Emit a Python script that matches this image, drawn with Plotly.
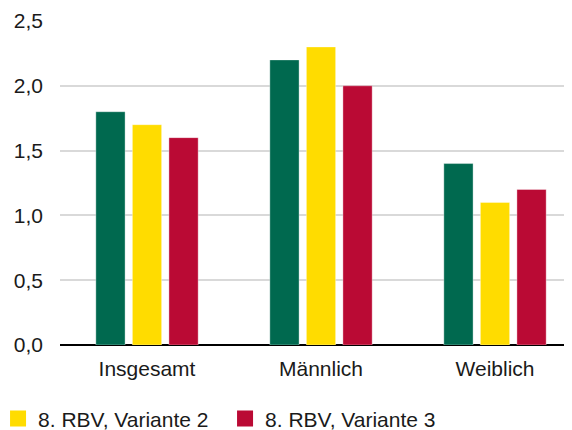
import plotly.graph_objects as go

categories = ["Insgesamt", "Männlich", "Weiblich"]
series_names = ["8. RBV, Variante 1", "8. RBV, Variante 2", "8. RBV, Variante 3"]
values_v1 = [1.8, 2.2, 1.4]
values_v2 = [1.7, 2.3, 1.1]
values_v3 = [1.6, 2.0, 1.2]
colors = ["#00694f", "#ffdc00", "#ba0a34"]
y_ticks = [0, 0.5, 1.0, 1.5, 2.0, 2.5]
title_text = "in Prozent"

FONT = "Liberation Sans, Arial, sans-serif"
fig = go.Figure()
for name, vals, col in zip(series_names, [values_v1, values_v2, values_v3], colors):
    fig.add_trace(go.Bar(x=categories, y=vals, name=name, marker_color=col,
                         marker_line=dict(width=0.6, color="rgba(255,255,255,0.6)"),
                         showlegend=False))
# legend entries (only variants 2 and 3 are shown in the reference)
for name, col in zip(series_names[1:], colors[1:]):
    fig.add_trace(go.Scatter(x=[None], y=[None], mode="markers", name=name,
                             marker=dict(symbol="square", size=16, color=col)))

fig.update_layout(
    width=572, height=430,
    margin=dict(l=52, r=8, t=13, b=93, autoexpand=False),
    paper_bgcolor="white", plot_bgcolor="white",
    separators=",.",
    font=dict(family=FONT, size=21, color="#1a1a1a"),
    barmode="group", bargap=0.37, bargroupgap=0.2,
    legend=dict(orientation="h", x=-0.121, xanchor="left", y=-0.228, yanchor="middle",
                font=dict(size=21), entrywidth=182, bgcolor="rgba(0,0,0,0)",
                itemclick=False),
    annotations=[dict(text=title_text, xref="paper", yref="paper", x=(103 - 60) / 512, y=1.027,
                      xanchor="left", yanchor="bottom", showarrow=False,
                      font=dict(size=26, family=FONT, color="#1a1a1a"))],
)
fig.update_xaxes(range=[-0.5, -0.5 + 512 / 174], showgrid=False, showline=False, ticks="",
                 ticklabelstandoff=9, tickfont=dict(size=21))
fig.update_yaxes(range=[0, 2.5], tickvals=y_ticks, tickformat=".1f", showgrid=True,
                 gridcolor="#d9d9d9", gridwidth=1.5, zeroline=True, zerolinecolor="#000000",
                 zerolinewidth=1.5, showline=False, ticks="", ticklabelstandoff=16,
                 tickfont=dict(size=21))
fig.write_html("out.html")
